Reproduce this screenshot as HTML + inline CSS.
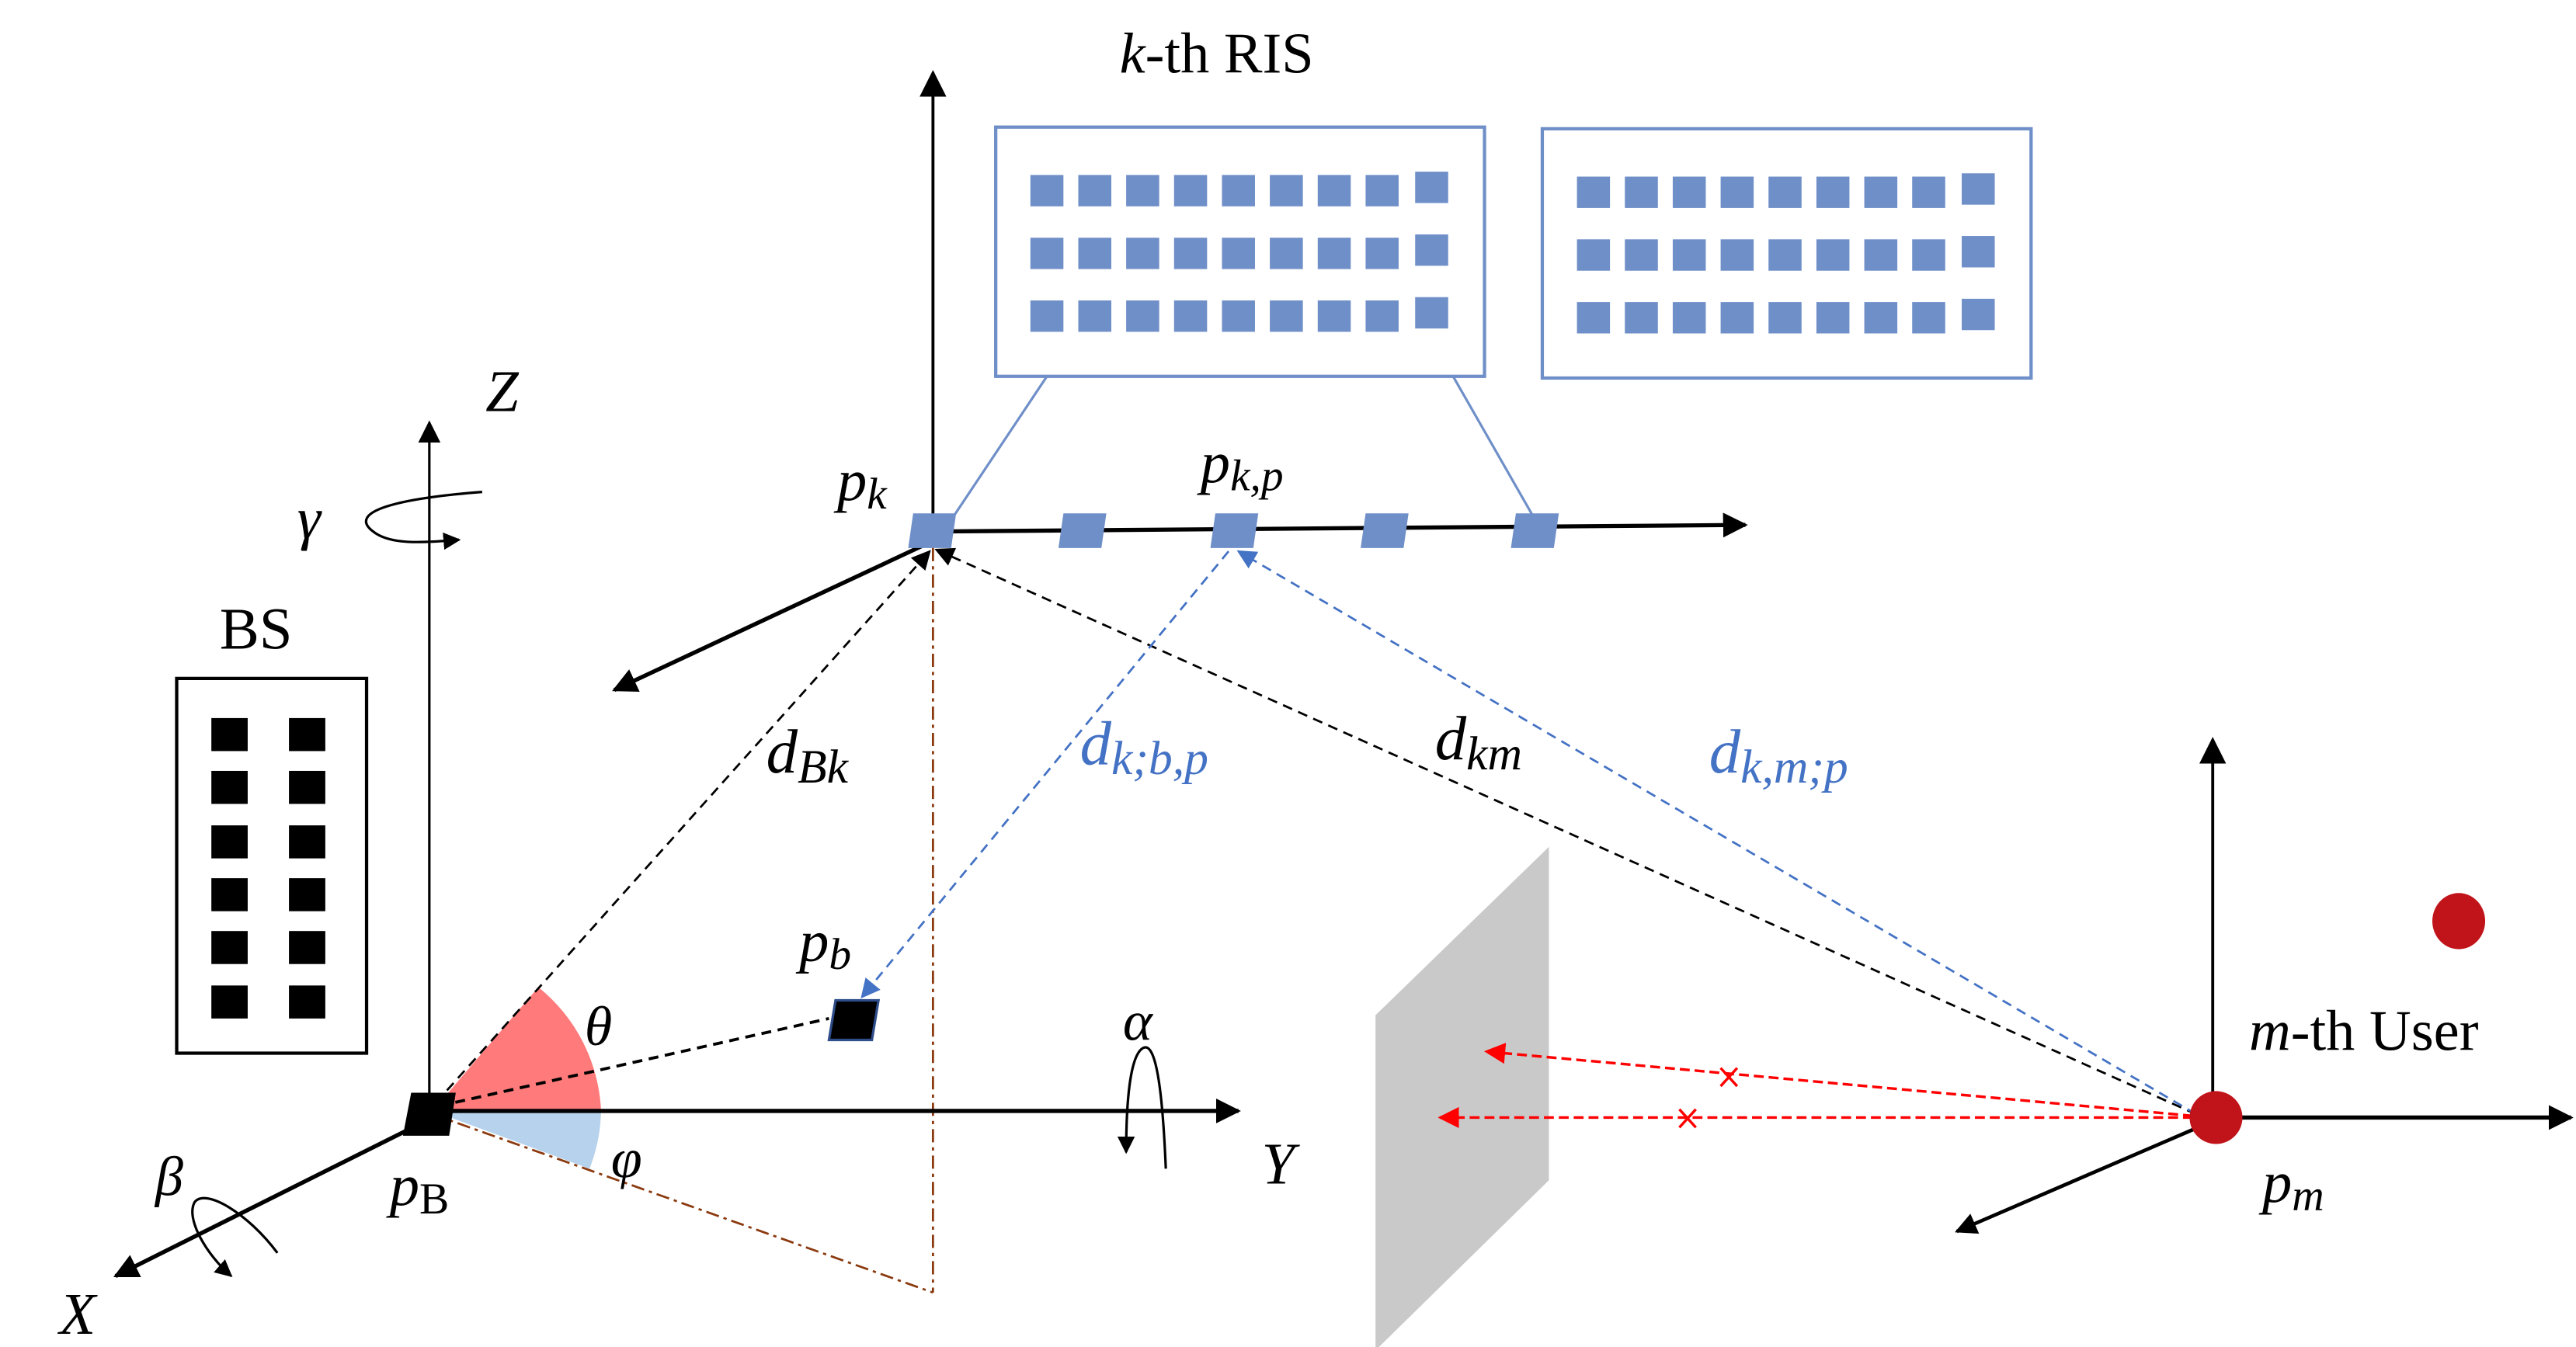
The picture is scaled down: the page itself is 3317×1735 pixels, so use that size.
<!DOCTYPE html>
<html><head><meta charset="utf-8"><style>
html,body{margin:0;padding:0;background:#fff}
svg{display:block}
text{font-family:"Liberation Serif","DejaVu Serif",serif}
.m{font-style:italic}
</style></head><body>
<svg width="3317" height="1735" viewBox="0 0 1560 816" preserveAspectRatio="none" xmlns="http://www.w3.org/2000/svg">
<defs>
<marker id="ab" viewBox="0 0 10 10" refX="9" refY="5" markerWidth="7" markerHeight="7" orient="auto-start-reverse"><path d="M0,0L10,5L0,10z" fill="#000"/></marker>
<marker id="as" viewBox="0 0 10 10" refX="9" refY="5" markerWidth="6" markerHeight="6" orient="auto-start-reverse"><path d="M0,0L10,5L0,10z" fill="#000"/></marker>
<marker id="at" viewBox="0 0 10 10" refX="9" refY="5" markerWidth="9" markerHeight="9" orient="auto-start-reverse"><path d="M0,0L10,5L0,10z" fill="#000"/></marker>
<marker id="abl" viewBox="0 0 10 10" refX="9" refY="5" markerWidth="9" markerHeight="9" orient="auto-start-reverse"><path d="M0,0L10,5L0,10z" fill="#4472c4"/></marker>
<marker id="ar" viewBox="0 0 10 10" refX="9" refY="5" markerWidth="8" markerHeight="8" orient="auto-start-reverse"><path d="M0,0L10,5L0,10z" fill="#f00"/></marker>
<g id="row">
<rect x="624" y="0" width="20" height="19"/><rect x="653" y="0" width="20" height="19"/><rect x="682" y="0" width="20" height="19"/><rect x="711" y="0" width="20" height="19"/><rect x="740" y="0" width="20" height="19"/><rect x="769" y="0" width="20" height="19"/><rect x="798" y="0" width="20" height="19"/><rect x="827" y="0" width="20" height="19"/><rect x="857" y="-2" width="20" height="19"/>
</g>
</defs>

<text x="678" y="44" font-size="35"><tspan class="m">k</tspan>-th RIS</text>

<rect x="603" y="77" width="296" height="151" fill="none" stroke="#6f8fc8" stroke-width="2"/>
<rect x="934" y="78" width="296" height="151" fill="none" stroke="#6f8fc8" stroke-width="2"/>
<g fill="#6f8fc8">
<use href="#row" y="106"/><use href="#row" y="144"/><use href="#row" y="182"/>
<use href="#row" x="331" y="107"/><use href="#row" x="331" y="145"/><use href="#row" x="331" y="183"/>
</g>
<line x1="634" y1="228" x2="578" y2="312" stroke="#6f8fc8" stroke-width="1.5"/>
<line x1="880" y1="228" x2="928" y2="312" stroke="#6f8fc8" stroke-width="1.5"/>

<line x1="565" y1="322" x2="565" y2="44" stroke="#000" stroke-width="1.8" marker-end="url(#at)"/>
<line x1="565" y1="322" x2="1057" y2="318" stroke="#000" stroke-width="2.5" marker-end="url(#as)"/>
<line x1="560" y1="330" x2="372" y2="418" stroke="#000" stroke-width="2.5" marker-end="url(#as)"/>
<g fill="#6f8fc8">
<polygon points="553,311 579,311 576,332 550,332"/>
<polygon points="644,311 670,311 667,332 641,332"/>
<polygon points="736,311 762,311 759,332 733,332"/>
<polygon points="827,311 853,311 850,332 824,332"/>
<polygon points="918,311 944,311 941,332 915,332"/>
</g>
<text x="507" y="303" font-size="36" class="m">p<tspan font-size="27" dy="5">k</tspan></text>
<text x="727" y="292" font-size="36" class="m">p<tspan font-size="27" dy="5">k,p</tspan></text>

<line x1="565" y1="332" x2="565" y2="783" stroke="#8b3a0f" stroke-width="1.3" stroke-dasharray="8,3,2,3"/>
<line x1="262" y1="675" x2="565" y2="783" stroke="#8b3a0f" stroke-width="1.3" stroke-dasharray="8,3,2,3"/>

<path d="M262,673 L364,673 A102,102 0 0 0 326,598 Z" fill="#ff7b7b"/>
<path d="M262,673 L364,673 A102,102 0 0 1 357,708 Z" fill="#b6d2ec"/>

<line x1="260" y1="675" x2="260" y2="256" stroke="#000" stroke-width="1.5" marker-end="url(#at)"/>
<text x="294" y="249" font-size="36" class="m">Z</text>
<text x="180" y="326" font-size="36" class="m">γ</text>
<path d="M292,298 C240,302 210,310 226,322 C236,330 255,329 278,327" fill="none" stroke="#000" stroke-width="1.5" marker-end="url(#ab)"/>
<text x="133" y="393" font-size="36">BS</text>
<rect x="107" y="411" width="115" height="227" fill="none" stroke="#000" stroke-width="2"/>
<g fill="#000">
<rect x="128" y="435" width="22" height="20"/><rect x="175" y="435" width="22" height="20"/>
<rect x="128" y="467" width="22" height="20"/><rect x="175" y="467" width="22" height="20"/>
<rect x="128" y="500" width="22" height="20"/><rect x="175" y="500" width="22" height="20"/>
<rect x="128" y="532" width="22" height="20"/><rect x="175" y="532" width="22" height="20"/>
<rect x="128" y="564" width="22" height="20"/><rect x="175" y="564" width="22" height="20"/>
<rect x="128" y="597" width="22" height="20"/><rect x="175" y="597" width="22" height="20"/>
</g>

<line x1="262" y1="673" x2="750" y2="673" stroke="#000" stroke-width="2.5" marker-end="url(#as)"/>
<line x1="250" y1="683" x2="70" y2="773" stroke="#000" stroke-width="2.5" marker-end="url(#as)"/>
<polygon points="249,662 276,662 272,688 244,688" fill="#000"/>
<text x="36" y="808" font-size="36" class="m">X</text>
<text x="764" y="717" font-size="36" class="m">Y</text>
<text x="680" y="630" font-size="34" class="m">α</text>
<path d="M706,708 C704,660 700,630 692,635 C684,640 682,670 682,698" fill="none" stroke="#000" stroke-width="1.5" marker-end="url(#ab)"/>
<text x="94" y="724" font-size="34" class="m">β</text>
<path d="M168,759 C150,735 125,720 118,728 C112,738 125,760 140,773" fill="none" stroke="#000" stroke-width="1.5" marker-end="url(#ab)"/>
<text x="236" y="730" font-size="36" class="m">p<tspan font-size="27" dy="5" font-style="normal">B</tspan></text>
<text x="354" y="633" font-size="34" class="m">θ</text>
<text x="370" y="713" font-size="34" class="m">φ</text>

<polygon points="506,606 532,606 528,630 502,630" fill="#000" stroke="#2e4d8a" stroke-width="1.5"/>
<text x="484" y="582" font-size="36" class="m">p<tspan font-size="27" dy="5">b</tspan></text>
<line x1="266" y1="670" x2="502" y2="617" stroke="#000" stroke-width="1.8" stroke-dasharray="6,4"/>

<line x1="264" y1="668" x2="563" y2="334" stroke="#000" stroke-width="1.3" stroke-dasharray="6,4" marker-end="url(#at)"/>
<line x1="1330" y1="675" x2="567" y2="333" stroke="#000" stroke-width="1.3" stroke-dasharray="6,4" marker-end="url(#at)"/>
<line x1="1330" y1="675" x2="750" y2="334" stroke="#4472c4" stroke-width="1.3" stroke-dasharray="6,4" marker-end="url(#abl)"/>
<line x1="744" y1="334" x2="522" y2="604" stroke="#4472c4" stroke-width="1.3" stroke-dasharray="6,4" marker-end="url(#abl)"/>
<text x="464" y="468" font-size="38" class="m">d<tspan font-size="29" dy="6">Bk</tspan></text>
<text x="654" y="463" font-size="38" class="m" fill="#4472c4">d<tspan font-size="29" dy="6">k;b,p</tspan></text>
<text x="869" y="460" font-size="38" class="m">d<tspan font-size="29" dy="6">km</tspan></text>
<text x="1035" y="468" font-size="38" class="m" fill="#4472c4">d<tspan font-size="29" dy="6">k,m;p</tspan></text>

<polygon points="833,615 938,513 938,715 833,818" fill="#c9c9c9"/>

<line x1="1328" y1="676" x2="900" y2="637" stroke="#f00" stroke-width="1.6" stroke-dasharray="6,3" marker-end="url(#ar)"/>
<line x1="1328" y1="677" x2="872" y2="677" stroke="#f00" stroke-width="1.6" stroke-dasharray="6,3" marker-end="url(#ar)"/>
<path d="M1042,647 L1052,658 M1052,647 L1042,658" stroke="#f00" stroke-width="1.6"/>
<path d="M1017,672 L1027,683 M1027,672 L1017,683" stroke="#f00" stroke-width="1.6"/>

<line x1="1340" y1="677" x2="1340" y2="448" stroke="#000" stroke-width="1.8" marker-end="url(#at)"/>
<line x1="1340" y1="677" x2="1557" y2="677" stroke="#000" stroke-width="2.5" marker-end="url(#as)"/>
<line x1="1338" y1="680" x2="1185" y2="746" stroke="#000" stroke-width="2.2" marker-end="url(#as)"/>
<ellipse cx="1342" cy="677" rx="16" ry="16" fill="#c0141a"/>
<ellipse cx="1489" cy="558" rx="16" ry="17" fill="#c0141a"/>
<text x="1362" y="636" font-size="35"><tspan class="m">m</tspan>-th User</text>
<text x="1370" y="728" font-size="36" class="m">p<tspan font-size="27" dy="5">m</tspan></text>
</svg>
</body></html>
